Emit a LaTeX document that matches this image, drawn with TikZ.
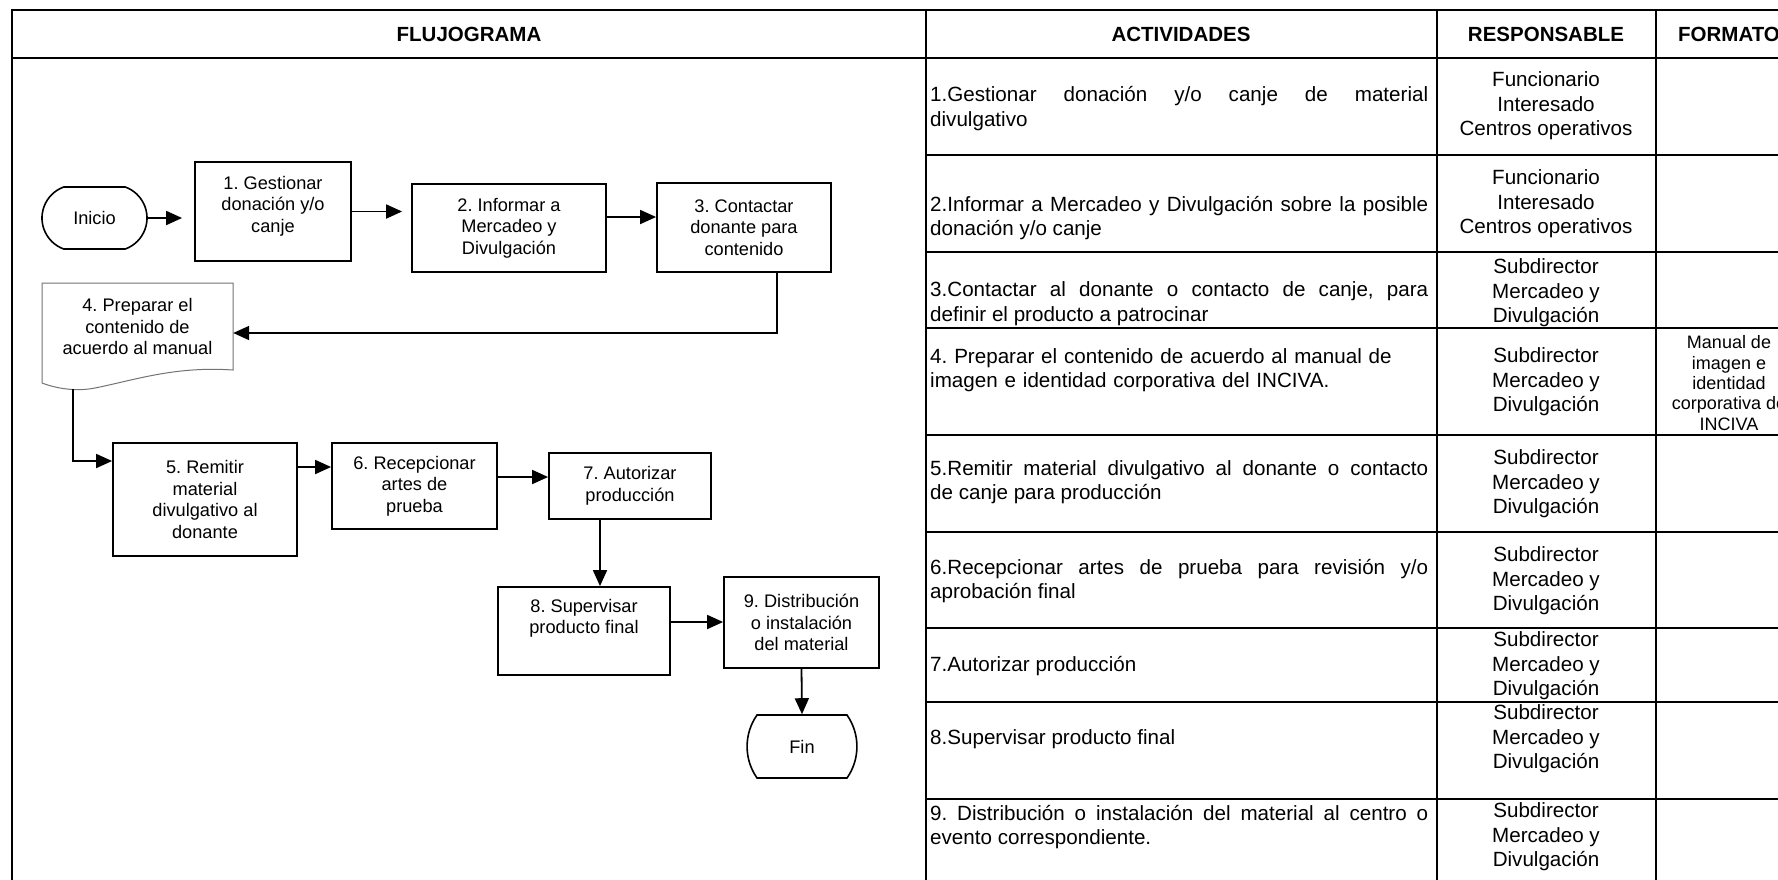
\documentclass[tikz,border=0pt]{standalone}
\usepackage{fontspec}
\setmainfont{Liberation Sans}
\usetikzlibrary{arrows.meta,shapes.misc}
\frenchspacing
\begin{document}
\begin{tikzpicture}[x=1pt,y=-1pt,
  tbl/.style={line width=2.6pt},
  fc/.style={font=\fontsize{18.2}{21.5}\selectfont, align=center},
  box/.style={fc, draw, line width=1.8pt, inner sep=0pt},
  term/.style={fc, draw, line width=1.6pt, rounded rectangle, inner sep=0pt},
  arr/.style={line width=1.8pt, -{Triangle[length=16pt,width=14pt]}},
  hdr/.style={font=\fontsize{20.5}{24}\selectfont\bfseries, inner sep=0pt},
  act/.style={font=\fontsize{20.6}{24.5}\selectfont, text width=498pt, align=justify, anchor=west, inner sep=0pt},
  actl/.style={act, align=left},
  resp/.style={font=\fontsize{20.6}{24.5}\selectfont, align=center, inner sep=0pt},
  fmt/.style={font=\fontsize{18}{20.3}\selectfont, align=center, inner sep=0pt}
]
\useasboundingbox (0,0) rectangle (1778,879);
\clip (0,0) rectangle (1778,879);
\fill[white] (0,0) rectangle (1778,879);

% table grid
\draw[tbl] (12,882) -- (12,10) -- (1790,10);
\draw[tbl] (12,58) -- (1790,58);
\foreach \x in {926,1437,1656} \draw[tbl] (\x,10) -- (\x,882);
\foreach \y in {155,252,328,435,532,628,702,799} \draw[tbl] (926,\y) -- (1790,\y);

% headers
\node[hdr] (hF) at (469,34) {FLUJOGRAMA};
\node[hdr] (hA) at (1181,34) {ACTIVIDADES};
\node[hdr] (hR) at (1546,34) {RESPONSABLE};
\node[hdr] (hM) at (1729,34) {FORMATO};

% activities
\node[act] (a1) at (930,108.5) {1.Gestionar donación y/o canje de material\linebreak divulgativo};
\node[act] (a2) at (930,218) {2.Informar a Mercadeo y Divulgación sobre la posible\linebreak donación y/o canje};
\node[act] (a3) at (930,303.5) {3.Contactar al donante o contacto de canje, para\linebreak definir el producto a patrocinar};
\node[actl] (a4) at (930,370) {4. Preparar el contenido de acuerdo al manual de\\imagen e identidad corporativa del INCIVA.};
\node[act] (a5) at (930,482) {5.Remitir material divulgativo al donante o contacto\linebreak de canje para producción};
\node[act] (a6) at (930,581) {6.Recepcionar artes de prueba para revisión y/o\linebreak aprobación final};
\node[act] (a7) at (930,666) {7.Autorizar producción};
\node[act] (a8) at (930,739) {8.Supervisar producto final};
\node[act] (a9) at (930,827) {9. Distribución o instalación del material al centro o\linebreak evento correspondiente.};

% responsables
\node[resp] (r1) at (1546,106) {Funcionario\\Interesado\\Centros operativos};
\node[resp] (r2) at (1546,204) {Funcionario\\Interesado\\Centros operativos};
\node[resp] (r3) at (1546,293) {Subdirector\\Mercadeo y\\Divulgación};
\node[resp] (r4) at (1546,382) {Subdirector\\Mercadeo y\\Divulgación};
\node[resp] (r5) at (1546,484) {Subdirector\\Mercadeo y\\Divulgación};
\node[resp] (r6) at (1546,581) {Subdirector\\Mercadeo y\\Divulgación};
\node[resp] (r7) at (1546,666) {Subdirector\\Mercadeo y\\Divulgación};
\node[resp] (r8) at (1546,739) {Subdirector\\Mercadeo y\\Divulgación};
\node[resp] (r9) at (1546,837) {Subdirector\\Mercadeo y\\Divulgación};

% formato
\node[fmt] (m4) at (1729,383) {Manual de\\imagen e\\identidad\\corporativa de\\INCIVA};

% flowchart
\node[term, minimum width=105pt, minimum height=62pt, rounded rectangle arc length=140] (ini) at (94.5,218) {Inicio};
\node[box, minimum width=156pt, minimum height=99pt,
  label={[fc,yshift=5.5pt]center:{1. Gestionar\\donación y/o\\canje}}] (b1) at (273,211.5) {};
\node[box, minimum width=194pt, minimum height=88pt] (b2) at (509,228) {2. Informar a\\Mercadeo y\\Divulgación};
\node[box, minimum width=174pt, minimum height=89pt] (b3) at (744,227.5) {3. Contactar\\donante para\\contenido};
\draw[line width=1pt, draw=black!55] (42,283) -- (233,283) -- (233,370)
  .. controls (175,366) and (135,380) .. (95,388)
  .. controls (75,392) and (55,388) .. (42,383) -- cycle;
\node[fc, minimum width=191pt, minimum height=87pt, inner sep=0pt] (b4) at (137.5,326.5) {4. Preparar el\\contenido de\\acuerdo al manual};
\coordinate (b4out) at (73,389);
\node[box, minimum width=184pt, minimum height=113pt] (b5) at (205,499.5) {5. Remitir\\material\\divulgativo al\\donante};
\node[box, minimum width=165pt, minimum height=86pt] (b6) at (414.5,486) {6. Recepcionar\\artes de\\prueba};
\node[box, minimum width=162pt, minimum height=66pt] (b7) at (630,486) {7. Autorizar\\producción};
\node[box, minimum width=172pt, minimum height=88pt,
  label={[fc,yshift=12.5pt]center:{8. Supervisar\\producto final}}] (b8) at (584,631) {};
\node[box, minimum width=155pt, minimum height=91pt] (b9) at (801.5,622.5) {9. Distribución\\o instalación\\del material};
\node[term, minimum width=80pt, minimum height=63pt, rounded rectangle arc length=70] (fin) at (802,746.5) {Fin};

% connectors
\draw[arr, shorten >=12pt] (ini.east) -- (ini.east -| b1.west);
\draw[arr, shorten >=9pt] (b1.east) -- (b1.east -| b2.west);
\draw[arr] ([yshift=11pt]b2.east) -- ([yshift=11pt]b2.east -| b3.west);
\draw[arr] ([xshift=33pt]b3.south) |- ([yshift=-6.5pt]b4.east);
\draw[arr] (b4out) |- ([yshift=38.5pt]b5.west);
\draw[arr] ([yshift=32.5pt]b5.east) -- ([yshift=32.5pt]b5.east -| b6.west);
\draw[arr] ([yshift=9pt]b6.east) -- ([yshift=9pt]b6.east -| b7.west);
\draw[arr] ([xshift=-30pt]b7.south) -- ([xshift=-30pt]b7.south |- b8.north);
\draw[arr] ([yshift=9pt]b8.east) -- ([yshift=9pt]b8.east -| b9.west);
\draw[arr] (b9.south) -- (fin.north);
\end{tikzpicture}
\end{document}
